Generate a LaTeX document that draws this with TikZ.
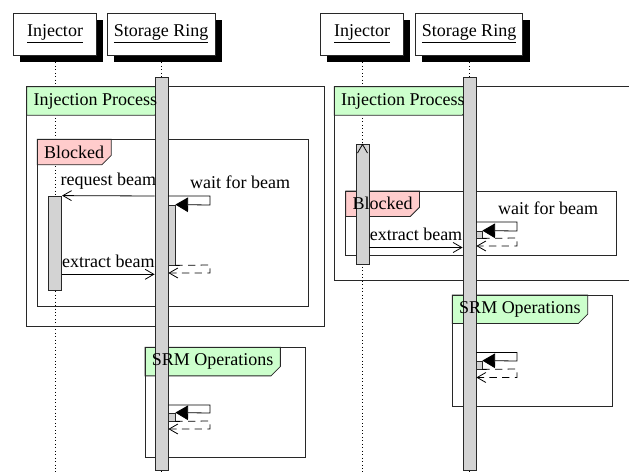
\documentclass[tikz,border=0pt]{standalone}
\usepackage{fontspec}
\setmainfont{Liberation Serif}
\usepackage{tikz}
\usetikzlibrary{arrows.meta,calc,shadows,fit,backgrounds}
\usepackage{xcolor}
\definecolor{Barre}{RGB}{211,211,211}
\definecolor{Vert}{RGB}{204,255,204}
\definecolor{Rose}{RGB}{255,204,204}
\definecolor{Trait}{RGB}{40,40,40}

% cut-corner label of a fragment, filled behind the text of node #1
\newcommand{\fragtag}[2]{%
\begin{pgfonlayer}{background}
\filldraw[Trait, line width=0.6pt, fill=#2] (#1.north west) -- (#1.north east) -- ([yshift=7pt]#1.south east) -- ([xshift=-7pt]#1.south east) -- (#1.south west) -- cycle;
\end{pgfonlayer}}

\begin{document}
\begin{tikzpicture}[x=0.75pt, y=-0.75pt,
  font=\fontsize{13.5}{16}\selectfont,
  inst/.style={draw=Trait, fill=white, line width=0.6pt, minimum height=31.3pt, inner xsep=0pt,
    drop shadow={shadow xshift=5pt, shadow yshift=-5pt, fill=black, opacity=1}},
  bar/.style={draw=Trait, fill=Barre, inner sep=0pt, line width=0.6pt},
  fragment/.style={draw=Trait, line width=0.6pt},
  tag/.style={anchor=north west, inner xsep=5pt, inner ysep=4.6pt},
  life/.style={dotted, line width=0.6pt},
  msg/.style={-{Straight Barb[length=6.5pt,width=7.5pt]}, line width=0.6pt},
  call/.style={-{Triangle[length=9.5pt,width=11pt]}, line width=0.6pt},
  reply/.style={msg, dash pattern=on 5.5pt off 4pt},
  lab/.style={above, inner sep=4.5pt}]
\useasboundingbox (0,0) rectangle (629,474);

% instances
\node[inst, minimum width=62.5pt] (injL) at (55,34.2) {\underline{Injector}};
\node[inst, minimum width=80.8pt] (srL) at (161.2,34.2) {\underline{Storage Ring}};
\node[inst, minimum width=62.5pt] (injR) at (362,34.2) {\underline{Injector}};
\node[inst, minimum width=80.8pt] (srR) at (469,34.2) {\underline{Storage Ring}};

% lifelines
\begin{pgfonlayer}{background}
\foreach \n in {injL,srL,injR,srR}
  \draw[life] (\n.south) -- (\n.south |- 0,474);
\end{pgfonlayer}

% fragments
\draw[fragment] (26.7,86.7) rectangle (324,326.7);
\draw[fragment] (37.3,139.3) rectangle (308.3,306);
\draw[fragment] (145,347.3) rectangle (305,457.7);
\draw[fragment] (334.3,86.7) rectangle (640,280);
\draw[fragment] (345.7,191) rectangle (616,255);
\draw[fragment] (452.3,295) rectangle (612.7,406);

% activations
\node[bar, fit={(155,77) (168,470)}] (srBarL) {};
\node[bar, fit={(48.3,196) (61.7,290)}] (injBarL) {};
\node[bar, fit={(168,205) (175,265)}] (waitBarL) {};
\node[bar, fit={(168,413) (175,421)}] (opsBarL) {};
\node[bar, fit={(463,77) (476,470)}] (srBarR) {};
\node[bar, fit={(356,144) (369,264)}] (injBarR) {};
\node[bar, fit={(476,231) (482,238)}] (waitBarR) {};
\node[bar, fit={(476,361) (482,369)}] (opsBarR) {};

% fragment labels
\node[tag] (ipTagL) at (26.7,86.7) {Injection Process}; \fragtag{ipTagL}{Vert}
\node[tag] (blTagL) at (37.3,139.3) {Blocked}; \fragtag{blTagL}{Rose}
\node[tag] (opTagL) at (145,347.3) {SRM Operations}; \fragtag{opTagL}{Vert}
\node[tag] (ipTagR) at (334.3,86.7) {Injection Process}; \fragtag{ipTagR}{Vert}
\node[tag] (blTagR) at (345.7,191) {Blocked}; \fragtag{blTagR}{Rose}
\node[tag] (opTagR) at (452.3,295) {SRM Operations}; \fragtag{opTagR}{Vert}

% left: injector waits on the ring
\draw[msg] (srBarL.west |- 0,196) -- node[lab] (reqL) {request beam} (injBarL.north east);
\draw[call] (srBarL.east |- 0,196) node[anchor=base west, xshift=12.75pt, yshift=5.25pt] (waitL) {wait for beam}
  -- (210,196) -- (210,205) -- (waitBarL.north east);
\draw[reply] (waitBarL.south east) -- (210,265) -- (210,273) -- (srBarL.east |- 0,273);
\draw[msg] (injBarL.east |- 0,274.3) -- node[lab] (extL) {extract beam} (srBarL.west |- 0,274.3);
\draw[call] (srBarL.east |- 0,405) -- (210,405) -- (210,413) -- (opsBarL.north east);
\draw[reply] (opsBarL.south east) -- (210,421) -- (210,429) -- (srBarL.east |- 0,429);

% right: ring only blocks for the extraction
\draw[msg] ([yshift=-0.1pt]injBarR.north) -- (injBarR.north);
\draw[call] (srBarR.east |- 0,222) node[anchor=base west, xshift=12.75pt, yshift=5.25pt] (waitR) {wait for beam}
  -- (517,222) -- (517,231) -- (waitBarR.north east);
\draw[reply] (waitBarR.south east) -- (517,238) -- (517,246) -- (srBarR.east |- 0,246);
\draw[msg] (injBarR.east |- 0,247.5) -- node[lab] (extR) {extract beam} (srBarR.west |- 0,247.5);
\draw[call] (srBarR.east |- 0,352.5) -- (517,352.5) -- (517,361) -- (opsBarR.north east);
\draw[reply] (opsBarR.south east) -- (517,369) -- (517,377.5) -- (srBarR.east |- 0,377.5);
\end{tikzpicture}
\end{document}
